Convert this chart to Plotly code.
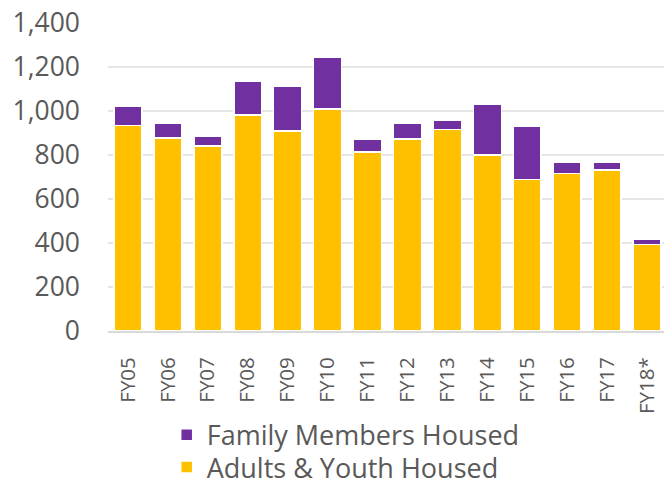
import plotly.graph_objects as go

categories = ["FY05", "FY06", "FY07", "FY08", "FY09", "FY10", "FY11",
              "FY12", "FY13", "FY14", "FY15", "FY16", "FY17", "FY18*"]
adults_youth = [935, 878, 840, 982, 910, 1010, 813, 873, 916, 800, 688, 717, 732, 393]
family_members = [87, 66, 44, 153, 203, 234, 59, 73, 44, 232, 243, 48, 36, 23]
y_ticks = [0, 200, 400, 600, 800, 1000, 1200, 1400]

FONT = "Open Sans"
GRAY = "#595959"

fig = go.Figure()
fig.add_trace(go.Bar(
    x=categories, y=adults_youth, name="Adults & Youth Housed",
    marker=dict(color="#FFC000", line=dict(color="white", width=1.5)),
    legend="legend2", showlegend=True,
))
fig.add_trace(go.Bar(
    x=categories, y=family_members, name="Family Members Housed",
    marker=dict(color="#7030A0", line=dict(color="white", width=1.5)),
    legend="legend", showlegend=True,
))

leg_common = dict(
    orientation="v", xanchor="left", yanchor="middle",
    font=dict(size=27, color=GRAY, family=FONT),
    bgcolor="rgba(0,0,0,0)",
)

fig.update_layout(
    width=672, height=483,
    barmode="stack", bargap=0.30,
    showlegend=True,
    paper_bgcolor="white", plot_bgcolor="white",
    margin=dict(l=100, r=13, t=15, b=160, autoexpand=False),
    font=dict(family=FONT, color=GRAY),
    legend=dict(x=0.105, y=-0.338, visible=True, **leg_common),
    legend2=dict(x=0.105, y=-0.443, visible=True, **leg_common),
    yaxis=dict(
        range=[0, 1400], tickvals=y_ticks, tickformat=",",
        showgrid=True, gridcolor="#E6E6E6", gridwidth=1.5,
        zeroline=False, showline=False,
        tickfont=dict(size=26.5, color=GRAY, family=FONT),
        ticklabelstandoff=27, ticklabeloverflow="allow",
    ),
    xaxis=dict(
        showline=True, linecolor="#D9D9D9", linewidth=2,
        tickangle=-90, ticks="",
        tickfont=dict(size=20.5, color=GRAY, family=FONT),
        ticklabelstandoff=16,
    ),
)

fig.write_html("out.html")
